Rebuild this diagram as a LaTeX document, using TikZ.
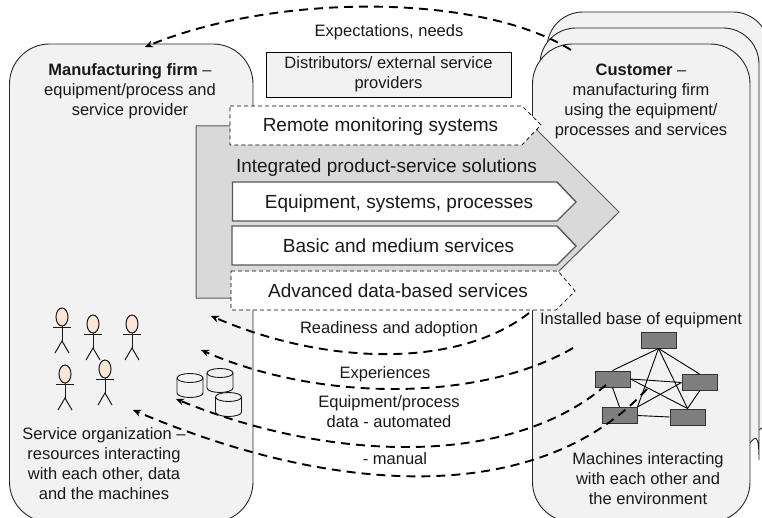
\documentclass[tikz,border=0pt]{standalone}
\usepackage{fontspec}
\setmainfont{Liberation Sans}
\usetikzlibrary{arrows.meta}
\definecolor{boxfill}{RGB}{242,242,242}
\definecolor{solfill}{RGB}{217,217,217}
\definecolor{soledge}{RGB}{89,89,89}
\definecolor{skin}{RGB}{251,229,214}
\definecolor{machine}{RGB}{127,127,127}
\tikzset{
  firmbox/.style={draw=black!85,fill=boxfill,line width=0.9pt,rounded corners=40},
  custbox/.style={draw=black!85,fill=boxfill,line width=0.9pt,rounded corners=36},
  solbar/.style={draw=soledge,fill=white,line width=1.4pt},
  dashbar/.style={draw=black,fill=white,line width=0.7pt,dash pattern=on 4pt off 3pt},
  flow/.style={draw=black,line width=1.9pt,dash pattern=on 9pt off 6pt,-{Stealth[length=8pt,width=7pt]}},
  lab/.style={font=\fontsize{16.5}{20}\selectfont,align=center,text=black!90,inner sep=0pt},
  onelab/.style={font=\fontsize{16.5}{20}\selectfont,text=black!90,inner sep=0pt,text height=12pt,text depth=3.5pt},
  biglab/.style={font=\fontsize{19}{22}\selectfont,text=black!90,inner sep=0pt,text height=14pt,text depth=4pt},
  mach/.style={draw=black!80,fill=machine,line width=1pt,minimum width=35,minimum height=16,inner sep=0pt},
  link/.style={draw=black,line width=0.9pt},
  thin person/.style={draw=black!90,line width=1pt}
}
\newcommand{\stickman}[2]{
  \begin{scope}[shift={(#1,#2)},thin person]
    \draw[fill=skin] (0,0) ellipse [x radius=6,y radius=9];
    \draw (0,9) -- (0,25) (-9,10) -- (9,10);
    \draw (-7,36) -- (0,24) -- (7,36);
  \end{scope}
}
\newcommand{\datadrum}[2]{
  \begin{scope}[shift={(#1,#2)}]
    \draw[draw=black!90,fill=boxfill,line width=0.9pt] (-13,0) -- (-13,15) arc[start angle=180,end angle=360,x radius=13pt,y radius=4.5pt] -- (13,0) arc[start angle=0,end angle=180,x radius=13pt,y radius=4.5pt];
    \draw[draw=black!90,line width=0.9pt] (-13,0) arc[start angle=180,end angle=360,x radius=13pt,y radius=4.5pt];
  \end{scope}
}
\begin{document}
\begin{tikzpicture}[x=1pt,y=-1pt]
  \useasboundingbox (0,0) rectangle (762,518);
  \clip (0,0) rectangle (762,518);

  % firm and customer
  \draw[firmbox] (9.5,44) rectangle (253,522);
  \draw[custbox] (759,430) .. controls (765,426) and (769,420) .. (769,410) -- (769,12) -- (547,12) -- (547,100);
  \draw[custbox] (750,443) .. controls (755,437) and (759,432) .. (759,424) -- (759,28) -- (540,28) -- (540,100);
  \draw[firmbox] (532.5,44) rectangle (750,522);

  \node[lab] (firmtext) at (130,91.5) {\textbf{Manufacturing firm} --\\equipment/process and\\service provider};
  \node[lab] (custtext) at (641,101.5) {\textbf{Customer} --\\manufacturing firm\\using the equipment/\\processes and services};
  \node[lab,draw=black,fill=boxfill,line width=0.9pt,minimum width=245,minimum height=45] (distrib) at (388.5,74.5) {Distributors/ external service\\providers};
  \node[onelab] (expect) at (389,32) {Expectations, needs};

  % solutions arrow
  \draw[draw=soledge,fill=solfill,line width=1pt] (196,126) -- (537,126) -- (537,130) -- (619,212) -- (558,272) -- (558,298) -- (196,298) -- cycle;
  \draw[dashbar] (230,106) -- (522,106) -- (541,125) -- (522,145) -- (230,145) -- cycle;
  \draw[solbar] (232.5,182) -- (557,182) -- (576,202) -- (557,221) -- (232.5,221) -- cycle;
  \draw[solbar] (232,226) -- (557,226) -- (576,246) -- (557,265) -- (232,265) -- cycle;
  \draw[dashbar] (231,271) -- (558,271) -- (575,291) -- (556,310) -- (231,310) -- cycle;
  \node[biglab] (remote) at (380.5,127) {Remote monitoring systems};
  \node[biglab] (integrated) at (386.5,167.5) {Integrated product-service solutions};
  \node[biglab] (equip) at (399,203.5) {Equipment, systems, processes};
  \node[biglab] (basic) at (398.5,247.5) {Basic and medium services};
  \node[biglab] (advanced) at (398,292.5) {Advanced data-based services};

  % service organization
  \stickman{62}{317}
  \stickman{93}{324}
  \stickman{132}{324}
  \stickman{65}{374}
  \stickman{105}{369}
  \datadrum{190}{378}
  \datadrum{220}{373}
  \datadrum{228.5}{397}
  \node[lab] (service) at (104,464) {Service organization --\\resources interacting\\with each other, data\\and the machines};

  % installed base
  \node[onelab] (installed) at (641,320.5) {Installed base of equipment};
  \node[mach] (mtop) at (658.5,340) {};
  \node[mach] (mleft) at (612.5,379) {};
  \node[mach] (mright) at (699.5,382.5) {};
  \node[mach] (mlowa) at (619.5,415.5) {};
  \node[mach] (mlowb) at (687.5,417) {};
  \draw[link] (mtop.south) -- (mleft.north);
  \draw[link] (mtop.south) -- (mright.north);
  \draw[link] (mtop.south) -- (mlowa.north east);
  \draw[link] (mtop.south) -- (mlowb.north);
  \draw[link] (mleft.east) -- (mright.west);
  \draw[link] (mleft.east) -- (mlowb.north);
  \draw[link] (mleft.south) -- (mlowa.north);
  \draw[link] (mright.west) -- (mlowa.north east);
  \draw[link] (mright.south) -- (mlowb.north);
  \draw[link] (mlowa.east) -- (mlowb.west);
  \node[lab] (machtext) at (648,479) {Machines interacting\\with each other and\\the environment};

  % flows between the firms
  \coordinate (expA) at (571,50);
  \coordinate (expB) at (145,47);
  \coordinate (readyA) at (529,313);
  \coordinate (readyB) at (211,316);
  \coordinate (experA) at (573,348);
  \coordinate (experB) at (201,350);
  \coordinate (autoA) at (606,385);
  \coordinate (autoB) at (176,399);
  \coordinate (manA) at (647,389);
  \coordinate (manB) at (133,410);
  \draw[flow] (expA) .. controls (480,-7) and (276,-7) .. (expB);
  \draw[flow] (readyA) .. controls (460,367) and (330,367) .. (readyB);
  \draw[flow] (experA) .. controls (480,402) and (320,402) .. (experB);
  \draw[flow] (autoA) .. controls (510,468) and (330,462) .. (autoB);
  \draw[flow] (manA) .. controls (540,505) and (340,498) .. (manB);
  \node[onelab] (readytext) at (389,329) {Readiness and adoption};
  \node[onelab] (expertext) at (385,374) {Experiences};
  \node[lab] (autotext) at (389,412) {Equipment/process\\data - automated};
  \node[onelab] (mantext) at (395,460) {- manual};
\end{tikzpicture}
\end{document}
